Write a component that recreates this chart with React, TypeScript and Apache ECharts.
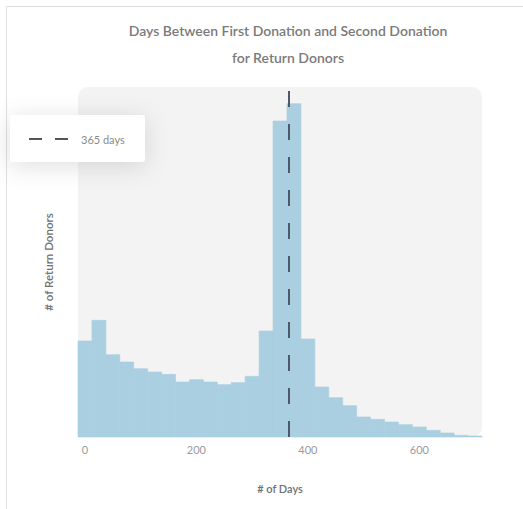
import React, { useEffect, useRef } from "react";
import * as echarts from "echarts";

// Histogram of days between a donor's first and second gift, 25-day bins
const binCenters: number[] = [
  0, 25, 50, 75, 100, 125, 150, 175, 200, 225, 250, 275, 300, 325, 350,
  375, 400, 425, 450, 475, 500, 525, 550, 575, 600, 625, 650, 675, 700,
];
const donorCounts: number[] = [
  288, 350, 247, 225, 205, 195, 188, 165, 172, 165, 157, 163, 182, 318, 948,
  1000, 294, 150, 118, 94, 60, 53, 45, 37, 30, 20, 12, 5, 3,
];
const BIN_WIDTH = 25;
const xTickLabels: number[] = [0, 200, 400, 600];
const markerDay = 365;
const markerLabel = "365 days";

const TITLE = "Days Between First Donation and Second Donation\nfor Return Donors";
const BAR_COLOR = "#a9cfe1";
const MARK_COLOR = "#4b5968";

export default function App() {
  const ref = useRef<HTMLDivElement>(null);

  useEffect(() => {
    if (!ref.current) return;
    const chart = echarts.init(ref.current, undefined, { renderer: "svg" });

    const histData = binCenters.map((c, i) => [
      c - BIN_WIDTH / 2,
      c + BIN_WIDTH / 2,
      donorCounts[i],
    ]);

    const gridLeft = 78;
    const gridTop = 87;
    const gridRight = 41;
    const gridBottom = 72;

    chart.setOption({
      animation: false,
      backgroundColor: "#ffffff",
      textStyle: { fontFamily: "Lato, 'Open Sans', sans-serif" },
      title: {
        text: TITLE,
        left: 283,
        top: 12,
        textAlign: "center",
        textStyle: {
          fontFamily: "Lato, 'Open Sans', sans-serif",
          fontSize: 14,
          fontWeight: 600,
          color: "#7a7a7a",
          lineHeight: 27,
        },
      },
      grid: {
        left: gridLeft,
        top: gridTop,
        right: gridRight,
        bottom: gridBottom,
      },
      graphic: [
        // card outline
        {
          type: "rect",
          z: -10,
          silent: true,
          shape: { x: 6.5, y: 6.5, width: 700, height: 700 },
          style: { fill: "none", stroke: "#dedede", lineWidth: 1 },
        },
        // plot background
        {
          type: "rect",
          z: -5,
          silent: true,
          shape: {
            x: gridLeft,
            y: gridTop,
            width: 523 - gridLeft - gridRight,
            height: 509 - gridTop - gridBottom,
            r: 10,
          },
          style: { fill: "#f3f3f3" },
        },
        // legend card
        {
          type: "group",
          z: 20,
          children: [
            {
              type: "rect",
              shape: { x: 10, y: 115, width: 135, height: 47, r: 3 },
              style: {
                fill: "#ffffff",
                shadowBlur: 24,
                shadowColor: "rgba(0,0,0,0.13)",
                shadowOffsetY: 4,
              },
            },
            {
              type: "line",
              shape: { x1: 29, y1: 139, x2: 68, y2: 139 },
              style: { stroke: "#555555", lineWidth: 2, lineDash: [13, 13] },
            },
            {
              type: "text",
              x: 81,
              y: 139,
              style: {
                text: markerLabel,
                fontFamily: "Lato, 'Open Sans', sans-serif",
                fontSize: 11,
                fill: "#8a8a8a",
                verticalAlign: "middle",
              },
            },
          ],
        },
      ],
      xAxis: {
        type: "value",
        min: binCenters[0] - BIN_WIDTH / 2,
        max: binCenters[binCenters.length - 1] + BIN_WIDTH / 2,
        name: "# of Days",
        nameLocation: "middle",
        nameGap: 46,
        nameTextStyle: {
          fontSize: 11,
          fontWeight: 600,
          color: "#707070",
        },
        axisLine: { show: false },
        axisTick: { show: false },
        splitLine: { show: false },
        axisLabel: {
          margin: 7,
          fontSize: 11,
          color: "#9a9a9a",
          showMinLabel: true,
          showMaxLabel: true,
          formatter: (v: number) => (xTickLabels.includes(v) ? String(v) : ""),
        },
      },
      yAxis: {
        type: "value",
        min: 0,
        max: 1050,
        name: "# of Return Donors",
        nameLocation: "middle",
        nameGap: 24,
        nameTextStyle: {
          fontSize: 11.5,
          fontWeight: 600,
          color: "#707070",
        },
        axisLine: { show: false },
        axisTick: { show: false },
        axisLabel: { show: false },
        splitLine: { show: false },
      },
      series: [
        {
          type: "custom",
          name: "Return Donors",
          data: histData,
          encode: { x: [0, 1], y: 2 },
          renderItem: (_params: any, api: any) => {
            const x0 = api.value(0);
            const x1 = api.value(1);
            const y = api.value(2);
            const top = api.coord([x0, y]);
            const bottom = api.coord([x1, 0]);
            return {
              type: "rect",
              shape: {
                x: top[0],
                y: top[1],
                width: bottom[0] - top[0],
                height: bottom[1] - top[1],
              },
              style: { fill: BAR_COLOR, stroke: BAR_COLOR, lineWidth: 0.6 },
            };
          },
          markLine: {
            silent: true,
            symbol: "none",
            label: { show: false },
            lineStyle: { color: MARK_COLOR, width: 2, type: [16, 17] },
            data: [{ xAxis: markerDay }],
          },
          z: 2,
        },
      ],
    });

    return () => chart.dispose();
  }, []);

  return (
    <div
      ref={ref}
      style={{ position: "fixed", left: 0, top: 0, width: 523, height: 509 }}
    />
  );
}
